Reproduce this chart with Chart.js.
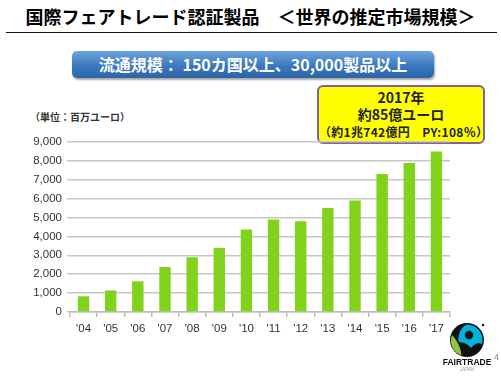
<!DOCTYPE html>
<html lang="ja">
<head>
  <meta charset="UTF-8">
  <title>国際フェアトレード認証製品 世界の推定市場規模</title>
  <script src="https://cdn.jsdelivr.net/npm/chart.js"></script>
  <style>
    html, body { margin: 0; padding: 0; background: #fff; }
    body { width: 501px; height: 376px; position: relative; overflow: hidden;
           font-family: "Noto Sans CJK JP", "Liberation Sans", sans-serif; }
    .title { position: absolute; left: 0; width: 501px; top: 3px; text-align: center;
             font-size: 18px; font-weight: bold; color: #000; white-space: nowrap; }
    .rule { position: absolute; left: 6px; width: 491px; top: 32px; height: 0; border-top: 1.5px solid #111; }
    .banner { position: absolute; left: 72px; top: 51px; width: 362px; height: 27px; border-radius: 5px;
              background: linear-gradient(#6fa6dc, #3b78be 55%, #2c64a6); box-shadow: 1px 2px 2px rgba(0,0,0,0.35);
              color: #fff; font-weight: bold; font-size: 16px; line-height: 27px; text-align: center; white-space: nowrap; }
    .callout { position: absolute; left: 317px; top: 85px; width: 164px; height: 55px; background: #ffff00;
               border: 2px solid #8064a2; border-radius: 6px; text-align: center; color: #222; font-weight: bold; }
    .callout div { line-height: 17px; white-space: nowrap; }
    .unit { position: absolute; left: 30px; top: 109px; font-size: 10px; font-weight: bold; color: #333; }
    .chart { position: absolute; left: 0; top: 130px; width: 460px; height: 210px; }
    .page { position: absolute; left: 494px; top: 352px; font-size: 9px; color: #888; font-family: "Liberation Sans", sans-serif; }
    .logo { position: absolute; left: 443px; top: 322px; }
  </style>
</head>
<body>
  <div class="title">国際フェアトレード認証製品　＜世界の推定市場規模＞</div>
  <div class="rule"></div>
  <div class="banner">流通規模：&nbsp;150カ国以上、30,000製品以上</div>
  <div class="callout">
    <div style="font-size:14px;margin-top:2px">2017年</div>
    <div style="font-size:14px">約85億ユーロ</div>
    <div style="font-size:12px;letter-spacing:0.3px">（約1兆742億円　PY:108％）</div>
  </div>
  <div class="unit">（単位：百万ユーロ）</div>
  <div class="chart"><canvas id="marketChart"></canvas></div>

  <svg class="logo" width="48" height="52" viewBox="0 0 48 52">
    <circle cx="24" cy="18" r="17" fill="#111"/>
    <path d="M24 2.5 A15.5 15.5 0 0 1 39 22 C35 20 31 22 28 26 C25 22 21 20 15.5 20 C14.5 12 18.5 4.5 24 2.5 Z" fill="#00b2dd"/>
    <path d="M9 13 C13.5 18 17.5 24 18.5 33.5 A15.5 15.5 0 0 1 9 13 Z" fill="#8dc63f"/>
    <circle cx="26" cy="13" r="4.2" fill="#111"/>
    <circle cx="40" cy="3" r="1.2" fill="#111"/>
    <text x="24" y="43" text-anchor="middle" font-family="Liberation Sans, sans-serif" font-weight="bold" font-size="8.5" fill="#111">FAIRTRADE</text>
    <text x="24" y="49" text-anchor="middle" font-family="Liberation Sans, sans-serif" font-size="4.5" fill="#999">JAPAN</text>
  </svg>
  <div class="page">4</div>

  <script>
    // 年（ラベル）と市場規模（百万ユーロ）
    const years = ["'04", "'05", "'06", "'07", "'08", "'09", "'10", "'11", "'12", "'13", "'14", "'15", "'16", "'17"];
    const sales = [831, 1141, 1623, 2381, 2895, 3394, 4363, 4900, 4800, 5500, 5900, 7300, 7880, 8490];
    const yTicks = [0, 1000, 2000, 3000, 4000, 5000, 6000, 7000, 8000, 9000];

    new Chart(document.getElementById('marketChart').getContext('2d'), {
      type: 'bar',
      data: {
        labels: years,
        datasets: [{
          label: '市場規模',
          data: sales,
          backgroundColor: '#80d21a',
          barPercentage: 0.42,
          categoryPercentage: 1
        }]
      },
      options: {
        responsive: true,
        maintainAspectRatio: false,
        animation: false,
        layout: { padding: { top: 11, right: 10, left: 0, bottom: 0 } },
        plugins: { legend: { display: false }, tooltip: { enabled: false } },
        scales: {
          x: {
            grid: { drawOnChartArea: false, drawTicks: true, tickLength: 5, color: '#bdbdbd', lineWidth: 1.5 },
            border: { display: true, color: '#bdbdbd', width: 1.5 },
            ticks: { color: '#333', font: { family: 'Liberation Sans', size: 11.5 }, padding: 5 },
            afterFit: s => { s.height = 28; }
          },
          y: {
            min: 0,
            max: 9000,
            afterBuildTicks: s => { s.ticks = yTicks.map(v => ({ value: v })); },
            grid: { color: '#c6c6c6', lineWidth: 1.5, tickLength: 3 },
            border: { display: false },
            ticks: {
              color: '#333',
              font: { family: 'Liberation Sans', size: 11.5 },
              padding: 5,
              callback: v => v.toLocaleString('en-US')
            },
            afterFit: s => { s.width = 70; }
          }
        }
      }
    });
  </script>
</body>
</html>
